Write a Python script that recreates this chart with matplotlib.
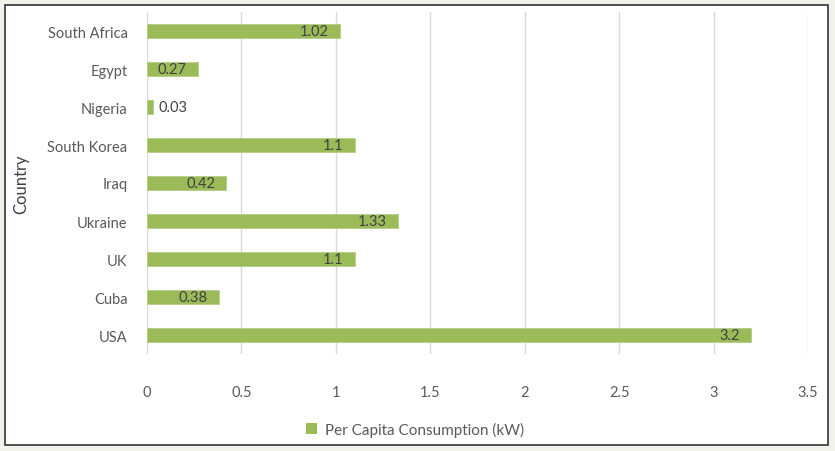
import matplotlib
matplotlib.use("Agg")
import matplotlib.pyplot as plt
from matplotlib.patches import Rectangle

countries = ["USA", "Cuba", "UK", "Ukraine", "Iraq", "South Korea", "Nigeria", "Egypt", "South Africa"]
values = [3.2, 0.38, 1.1, 1.33, 0.42, 1.1, 0.03, 0.27, 1.02]
value_labels = ["3.2", "0.38", "1.1", "1.33", "0.42", "1.1", "0.03", "0.27", "1.02"]
xticks = [0, 0.5, 1, 1.5, 2, 2.5, 3, 3.5]
xtick_labels = ["0", "0.5", "1", "1.5", "2", "2.5", "3", "3.5"]
series_name = "Per Capita Consumption (kW)"

plt.rcParams['font.family'] = ['Lato', 'DejaVu Sans']

fig = plt.figure(figsize=(8.35, 4.52), dpi=100)
fig.patch.set_facecolor("#f2f2ed")
fig.patches.append(Rectangle((5/835, 6/452), 823/835, 440/452, transform=fig.transFigure,
                             facecolor="white", edgecolor="#333333", linewidth=1.2, zorder=-5))

ax = fig.add_axes([147/835, 1-355/452, 661/835, 342/452])
ax.set_zorder(2)
ax.set_facecolor("none")
bar_color = "#9bbb59"
ypos = list(range(len(countries)))
bars = ax.barh(ypos, values, height=0.37, color=bar_color, edgecolor="#b5cc85", linewidth=0.6, zorder=3)

ax.set_xlim(0, 3.5)
ax.set_ylim(-0.5, len(countries) - 0.5)
ax.set_xticks(xticks)
ax.set_xticklabels(xtick_labels)
ax.set_yticks(ypos)
ax.set_yticklabels(countries)
ax.grid(axis="x", color="#d9d9d9", linewidth=1, zorder=0)
for s in ax.spines.values():
    s.set_visible(False)
ax.tick_params(axis="both", length=0, colors="#595959", labelsize=10.5)
ax.tick_params(axis="x", pad=22)
ax.tick_params(axis="y", pad=14)
ax.set_ylabel("Country", fontsize=12, color="#404040", labelpad=13)

for b, v, lab in zip(bars, values, value_labels):
    yc = b.get_y() + b.get_height() / 2
    if v < 0.1:
        ax.annotate(lab, (v, yc), xytext=(4, 0), textcoords="offset points",
                    ha="left", va="center", fontsize=10.5, color="#404040")
    else:
        ax.annotate(lab, (v, yc), xytext=(-8, 0), textcoords="offset points",
                    ha="right", va="center", fontsize=10.5, color="#404040")

handle = Rectangle((0, 0), 1, 1, facecolor=bar_color)
fig.legend([handle], [series_name], loc="center", bbox_to_anchor=(415/835, 1-430/452),
           frameon=False, fontsize=11, labelcolor="#595959", handlelength=0.7, handleheight=0.7,
           handletextpad=0.5)

fig.savefig("out.png", dpi=100, facecolor=fig.get_facecolor())
